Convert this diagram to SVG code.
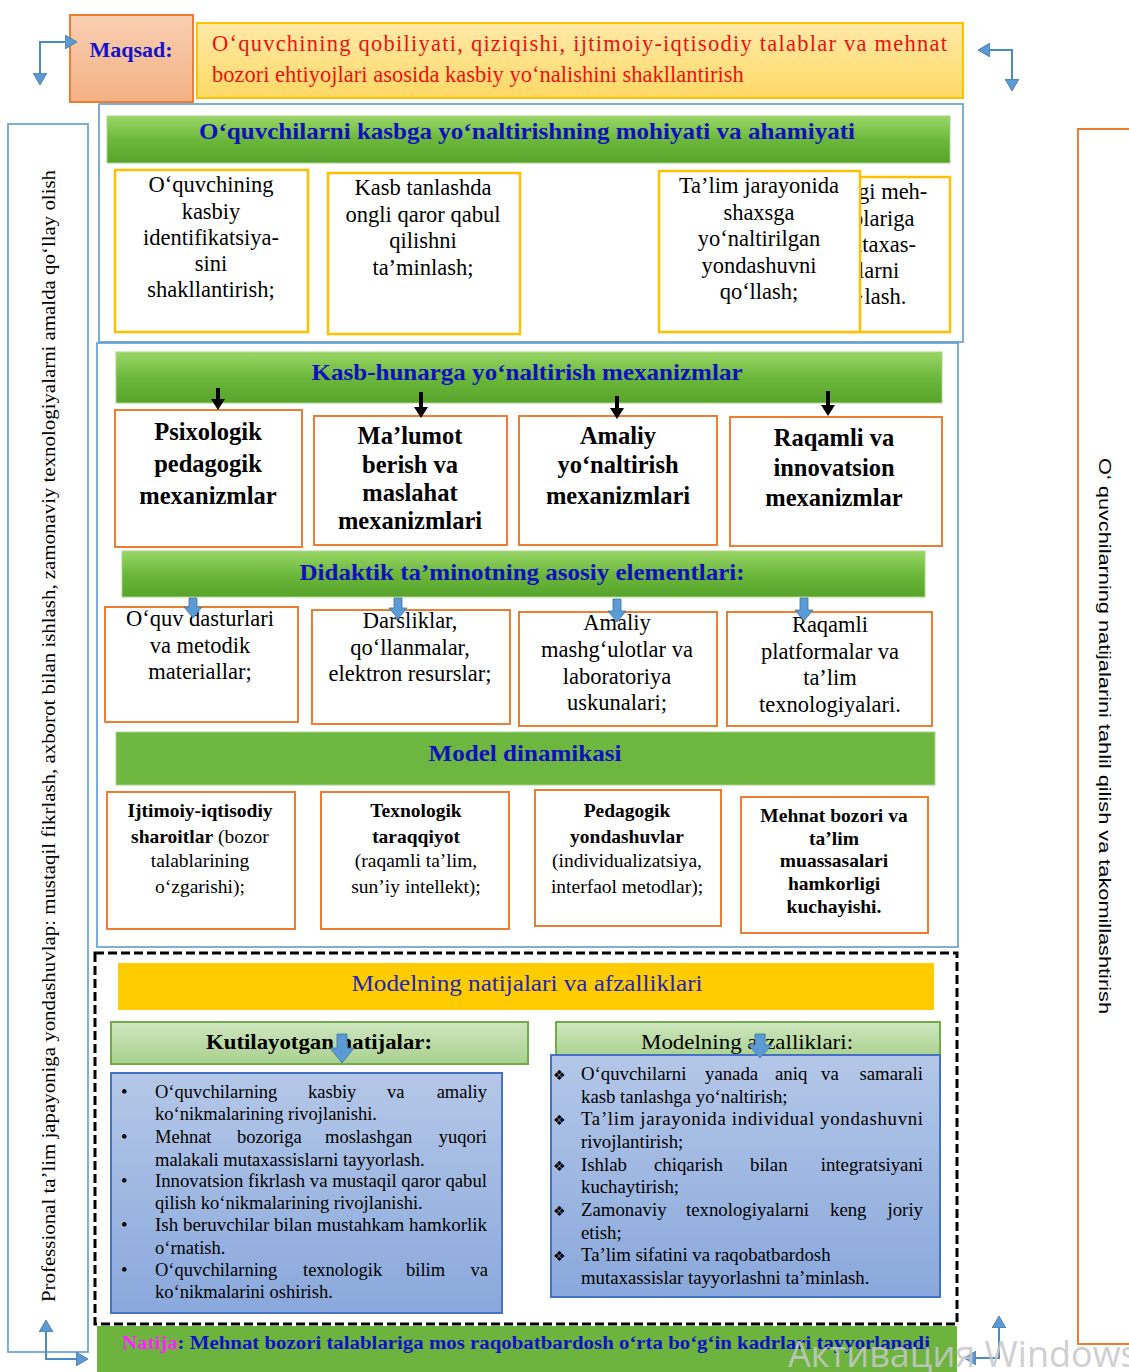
<svg xmlns="http://www.w3.org/2000/svg" width="1129" height="1372" viewBox="0 0 1129 1372">
<defs>
<linearGradient id="gGreen" x1="0" y1="0" x2="0" y2="1"><stop offset="0" stop-color="#9ad667"/><stop offset="0.5" stop-color="#6cb83c"/><stop offset="1" stop-color="#58a42b"/></linearGradient>
<linearGradient id="gLight" x1="0" y1="0" x2="0" y2="1"><stop offset="0" stop-color="#cfe6bf"/><stop offset="1" stop-color="#a9d18e"/></linearGradient>
<linearGradient id="gBlue" x1="0" y1="0" x2="0" y2="1"><stop offset="0" stop-color="#b4c7e7"/><stop offset="1" stop-color="#8aa8dc"/></linearGradient>
<linearGradient id="gSalmon" x1="0" y1="0" x2="0" y2="1"><stop offset="0" stop-color="#f9cfb3"/><stop offset="1" stop-color="#f4b183"/></linearGradient>
<linearGradient id="gGold" x1="0" y1="0" x2="0" y2="1"><stop offset="0" stop-color="#ffe9a8"/><stop offset="1" stop-color="#ffd966"/></linearGradient>
<marker id="ah" viewBox="0 0 12 14" refX="1" refY="7" markerWidth="12" markerHeight="14" markerUnits="userSpaceOnUse" orient="auto-start-reverse"><path d="M0,0 L12,7 L0,14 z" fill="#5b9bd5" stroke="#41719c" stroke-width="0.8"/></marker>
<style>
text{font-family:"Liberation Serif","Times New Roman",serif;fill:#000}
.c{text-anchor:middle}
.e{text-anchor:end}
.b{font-weight:bold}
.hd{font-weight:bold;fill:#0f0fc0;font-size:23px;text-anchor:middle}
.t22{font-size:22.5px}
.t24{font-size:24.5px;font-weight:bold}
.t20{font-size:19.5px}
.l18{font-size:18.5px}
.r18{font-size:18.8px}
.yb{fill:#fff;stroke:#ffc000;stroke-width:2.5}
.ob{fill:#fff;stroke:#ed7d31;stroke-width:2}
.cont{fill:none;stroke:#5b9bd5;stroke-width:1.6}
.gh{fill:url(#gGreen);stroke:#a8d58a;stroke-width:1}
.conn{fill:none;stroke:#4a8ac8;stroke-width:2;marker-start:url(#ah);marker-end:url(#ah)}
.ba{fill:#5b9bd5;stroke:#41719c;stroke-width:0.8}
.ka{fill:#000}
.dm{font-family:"DejaVu Sans",sans-serif;font-size:14px}
</style>
</defs>
<rect width="1129" height="1372" fill="#fff"/>

<g id="side-left">
<rect x="8" y="124" width="80" height="1228" fill="#fff" stroke="#5b9bd5" stroke-width="1.6"/>
<text transform="translate(55,1302) rotate(-90)" font-size="18" textLength="1132" lengthAdjust="spacingAndGlyphs">Professional ta’lim jaрayoniga yondashuvlaр: mustaqil fikrlash, axborot bilan ishlash, zamonaviy texnologiyalarni amalda qo‘llay olish</text>
</g>

<g id="side-right">
<rect x="1078" y="129" width="70" height="1215" fill="#fff" stroke="#ed7d31" stroke-width="2"/>
<text transform="translate(1099,458) rotate(90)" font-size="17" style="font-family:'Liberation Sans',Arial,sans-serif" textLength="556" lengthAdjust="spacingAndGlyphs">O‘ quvchilarning natijalarini tahlil qilish va takomillashtirish</text>
</g>

<g id="maqsad">
<rect x="70" y="15" width="123" height="87" fill="url(#gSalmon)" stroke="#ed7d31" stroke-width="2"/>
<text x="131" y="57" class="c b" font-size="22" style="fill:#1414c8">Maqsad:</text>
</g>

<g id="goal">
<rect x="197" y="23" width="766" height="75" fill="url(#gGold)" stroke="#ffc000" stroke-width="2"/>
<text x="212" y="51" class="t22" style="fill:#ee1111" textLength="735" lengthAdjust="spacing">O‘quvchining qobiliyati, qiziqishi, ijtimoiy-iqtisodiy talablar va mehnat</text>
<text x="212" y="82" class="t22" style="fill:#ee1111">bozori ehtiyojlari asosida kasbiy yo‘nalishini shakllantirish</text>
</g>

<g id="section-essence">
<rect x="99" y="104" width="864" height="238" class="cont"/>
<rect x="107" y="116" width="843" height="47" class="gh"/>
<text x="527" y="139" class="hd" textLength="656" lengthAdjust="spacingAndGlyphs">O‘quvchilarni kasbga yo‘naltirishning mohiyati va ahamiyati</text>
</g>

<g id="essence-1">
<rect x="115" y="170" width="193" height="162" class="yb"/>
<text class="c t22" x="211" y="192">O‘quvchining</text>
<text class="c t22" x="211" y="219">kasbiy</text>
<text class="c t22" x="211" y="245">identifikatsiya-</text>
<text class="c t22" x="211" y="271">sini</text>
<text class="c t22" x="211" y="297">shakllantirish;</text>
</g>
<g id="essence-2">
<rect x="328" y="173" width="192" height="161" class="yb"/>
<text class="c t22" x="423" y="195">Kasb tanlashda</text>
<text class="c t22" x="423" y="222">ongli qaror qabul</text>
<text class="c t22" x="423" y="248">qilishni</text>
<text class="c t22" x="423" y="275">ta’minlash;</text>
</g>
<g id="essence-4">
<rect x="845" y="177" width="105" height="155" class="yb"/>
<text class="t22" x="858" y="199">gi meh-</text>
<text class="t22" x="852" y="226">blariga</text>
<text class="t22" x="851" y="252">utaxas-</text>
<text class="t22" x="858" y="278">larni</text>
<text class="t22" x="857" y="304">·lash.</text>
</g>
<g id="essence-3">
<rect x="659" y="171" width="201" height="161" class="yb"/>
<text class="c t22" x="759" y="193">Ta’lim jarayonida</text>
<text class="c t22" x="759" y="220">shaxsga</text>
<text class="c t22" x="759" y="246">yo‘naltirilgan</text>
<text class="c t22" x="759" y="273">yondashuvni</text>
<text class="c t22" x="759" y="299">qo‘llash;</text>
</g>

<g id="section-mechanisms">
<rect x="97" y="343" width="861" height="604" class="cont"/>
<rect x="116" y="352" width="826" height="51" class="gh"/>
<text x="527" y="380" class="hd" font-size="24" textLength="431" lengthAdjust="spacingAndGlyphs">Kasb-hunarga yo‘naltirish mexanizmlar</text>
</g>

<g id="mech-1">
<rect x="115" y="410" width="187" height="137" class="ob"/>
<text class="c t24" x="208" y="440">Psixologik</text>
<text class="c t24" x="208" y="472">pedagogik</text>
<text class="c t24" x="208" y="504">mexanizmlar</text>
</g>
<g id="mech-2">
<rect x="314" y="416" width="193" height="129" class="ob"/>
<text class="c t24" x="410" y="444">Ma’lumot</text>
<text class="c t24" x="410" y="473">berish va</text>
<text class="c t24" x="410" y="501">maslahat</text>
<text class="c t24" x="410" y="529">mexanizmlari</text>
</g>
<g id="mech-3">
<rect x="519" y="416" width="198" height="129" class="ob"/>
<text class="c t24" x="618" y="444">Amaliy</text>
<text class="c t24" x="618" y="473">yo‘naltirish</text>
<text class="c t24" x="618" y="504">mexanizmlari</text>
</g>
<g id="mech-4">
<rect x="730" y="417" width="212" height="129" class="ob"/>
<text class="c t24" x="834" y="446">Raqamli va</text>
<text class="c t24" x="834" y="476">innovatsion</text>
<text class="c t24" x="834" y="506">mexanizmlar</text>
</g>

<g id="didactic-header">
<rect x="122" y="551" width="803" height="46" class="gh"/>
<text x="522" y="580" class="hd" textLength="445" lengthAdjust="spacingAndGlyphs">Didaktik ta’minotning asosiy elementlari:</text>
</g>

<g id="did-1">
<rect x="105" y="607" width="193" height="115" class="ob"/>
<text class="c t22" x="200" y="626">O‘quv dasturlari</text>
<text class="c t22" x="200" y="653">va metodik</text>
<text class="c t22" x="200" y="679">materiallar;</text>
</g>
<g id="did-2">
<rect x="312" y="610" width="198" height="114" class="ob"/>
<text class="c t22" x="410" y="628">Darsliklar,</text>
<text class="c t22" x="410" y="655">qo‘llanmalar,</text>
<text class="c t22" x="410" y="681">elektron resurslar;</text>
</g>
<g id="did-3">
<rect x="519" y="612" width="198" height="114" class="ob"/>
<text class="c t22" x="617" y="630">Amaliy</text>
<text class="c t22" x="617" y="657">mashg‘ulotlar va</text>
<text class="c t22" x="617" y="684">laboratoriya</text>
<text class="c t22" x="617" y="710">uskunalari;</text>
</g>
<g id="did-4">
<rect x="727" y="612" width="205" height="114" class="ob"/>
<text class="c t22" x="830" y="632">Raqamli</text>
<text class="c t22" x="830" y="659">platformalar va</text>
<text class="c t22" x="830" y="685">ta’lim</text>
<text class="c t22" x="830" y="712">texnologiyalari.</text>
</g>

<g id="dynamics-header">
<rect x="116" y="732" width="819" height="53" fill="#6db63f" stroke="#a8d58a" stroke-width="1"/>
<text x="525" y="761" class="hd" font-size="24" textLength="193" lengthAdjust="spacingAndGlyphs">Model dinamikasi</text>
</g>

<g id="dyn-1">
<rect x="107" y="792" width="188" height="137" class="ob"/>
<text class="c t20 b" x="200" y="817">Ijtimoiy-iqtisodiy</text>
<text class="c t20" x="200" y="843"><tspan font-weight="bold">sharoitlar</tspan> (bozor</text>
<text class="c t20" x="200" y="867">talablarining</text>
<text class="c t20" x="200" y="893">o‘zgarishi);</text>
</g>
<g id="dyn-2">
<rect x="321" y="792" width="188" height="137" class="ob"/>
<text class="c t20 b" x="416" y="817">Texnologik</text>
<text class="c t20 b" x="416" y="843">taraqqiyot</text>
<text class="c t20" x="416" y="867">(raqamli ta’lim,</text>
<text class="c t20" x="416" y="893">sun’iy intellekt);</text>
</g>
<g id="dyn-3">
<rect x="535" y="790" width="186" height="136" class="ob"/>
<text class="c t20 b" x="627" y="817">Pedagogik</text>
<text class="c t20 b" x="627" y="843">yondashuvlar</text>
<text class="c t20" x="627" y="867">(individualizatsiya,</text>
<text class="c t20" x="627" y="893">interfaol metodlar);</text>
</g>
<g id="dyn-4">
<rect x="741" y="797" width="187" height="136" class="ob"/>
<text class="c t20 b" x="834" y="822">Mehnat bozori va</text>
<text class="c t20 b" x="834" y="845">ta’lim</text>
<text class="c t20 b" x="834" y="867">muassasalari</text>
<text class="c t20 b" x="834" y="890">hamkorligi</text>
<text class="c t20 b" x="834" y="913">kuchayishi.</text>
</g>

<g id="results-section">
<rect x="95" y="953" width="862" height="371" fill="none" stroke="#000" stroke-width="3" stroke-dasharray="9,4"/>
<rect x="118" y="963" width="816" height="47" fill="#ffcc00"/>
<text x="527" y="991" class="c" font-size="23" style="fill:#2424b4" textLength="351" lengthAdjust="spacingAndGlyphs">Modelning natijalari va afzalliklari</text>
</g>

<g id="expected-results">
<rect x="111" y="1022" width="417" height="42" fill="url(#gLight)" stroke="#70ad47" stroke-width="2"/>
<text x="319" y="1049" class="c b" font-size="21.5" textLength="226" lengthAdjust="spacingAndGlyphs">Kutilayotgan natijalar:</text>
<rect x="111" y="1073" width="391" height="240" fill="url(#gBlue)" stroke="#4472c4" stroke-width="2"/>
<g class="l18">
<text x="121" y="1098">•</text><text x="121" y="1143">•</text><text x="121" y="1187">•</text><text x="121" y="1231">•</text><text x="121" y="1276">•</text>
<text x="155" y="1098">O‘quvchilarning</text><text x="308" y="1098">kasbiy</text><text x="387" y="1098">va</text><text class="e" x="487" y="1098">amaliy</text>
<text x="155" y="1120">ko‘nikmalarining rivojlanishi.</text>
<text x="155" y="1143">Mehnat</text><text x="237" y="1143">bozoriga</text><text x="325" y="1143">moslashgan</text><text class="e" x="487" y="1143">yuqori</text>
<text x="155" y="1166">malakali mutaxassislarni tayyorlash.</text>
<text x="155" y="1187" textLength="332" lengthAdjust="spacingAndGlyphs">Innovatsion fikrlash va mustaqil qaror qabul</text>
<text x="155" y="1209">qilish ko‘nikmalarining rivojlanishi.</text>
<text x="155" y="1231" textLength="332" lengthAdjust="spacingAndGlyphs">Ish beruvchilar bilan mustahkam hamkorlik</text>
<text x="155" y="1254">o‘rnatish.</text>
<text x="155" y="1276">O‘quvchilarning</text><text x="303" y="1276">texnologik</text><text x="406" y="1276">bilim</text><text class="e" x="488" y="1276">va</text>
<text x="155" y="1298">ko‘nikmalarini oshirish.</text>
</g>
</g>

<g id="advantages">
<rect x="556" y="1022" width="384" height="36" fill="url(#gLight)" stroke="#70ad47" stroke-width="2"/>
<text x="747" y="1049" class="c" font-size="22" textLength="212" lengthAdjust="spacingAndGlyphs">Modelning afzalliklari:</text>
<rect x="551" y="1055" width="389" height="242" fill="url(#gBlue)" stroke="#4472c4" stroke-width="2"/>
<g class="r18">
<text x="553" y="1080" class="dm">❖</text>
<text x="553" y="1125" class="dm">❖</text>
<text x="553" y="1171" class="dm">❖</text>
<text x="553" y="1216" class="dm">❖</text>
<text x="553" y="1261" class="dm">❖</text>
<text x="581" y="1080">O‘quvchilarni</text><text x="705" y="1080">yanada</text><text x="775" y="1080">aniq</text><text x="821" y="1080">va</text><text class="e" x="923" y="1080">samarali</text>
<text x="581" y="1103">kasb tanlashga yo‘naltirish;</text>
<text x="581" y="1125" textLength="342" lengthAdjust="spacing">Ta’lim jarayonida individual yondashuvni</text>
<text x="581" y="1148">rivojlantirish;</text>
<text x="581" y="1171">Ishlab</text><text x="654" y="1171">chiqarish</text><text x="750" y="1171">bilan</text><text class="e" x="923" y="1171">integratsiyani</text>
<text x="581" y="1193">kuchaytirish;</text>
<text x="581" y="1216">Zamonaviy</text><text x="686" y="1216">texnologiyalarni</text><text x="830" y="1216">keng</text><text class="e" x="923" y="1216">joriy</text>
<text x="581" y="1239">etish;</text>
<text x="581" y="1261">Ta’lim sifatini va raqobatbardosh</text>
<text x="581" y="1284">mutaxassislar tayyorlashni ta’minlash.</text>
</g>
</g>

<g id="result-bar">
<rect x="97" y="1326" width="860" height="46" fill="#6cb43e"/>
<text x="122" y="1349" class="b" font-size="19.5" textLength="808" lengthAdjust="spacingAndGlyphs"><tspan style="fill:#ff22ff">Natija</tspan><tspan style="fill:#1010c8">: Mehnat bozori talablariga mos raqobatbardosh o‘rta bo‘g‘in kadrlari tayyorlanadi</tspan></text>
</g>

<g id="connectors">
<path class="conn" d="M40,74 V42 H66"/>
<path class="conn" d="M989,50 H1012 V80"/>
<path class="conn" d="M46,1331 V1359 H77"/>
<path class="conn" d="M999,1327 V1358 H975"/>
<path class="ka" d="M216,388 h4 v11 h5 l-7,11 l-7,-11 h5 z"/>
<path class="ka" d="M419,392 h4 v15 h5 l-7,11 l-7,-11 h5 z"/>
<path class="ka" d="M615,396 h4 v12 h5 l-7,11 l-7,-11 h5 z"/>
<path class="ka" d="M826,391 h4 v14 h5 l-7,11 l-7,-11 h5 z"/>
<path class="ba" d="M189,598 h8 v9 h5 l-9,11 l-9,-11 h5 z"/>
<path class="ba" d="M394,598 h8 v10 h5 l-9,11 l-9,-11 h5 z"/>
<path class="ba" d="M613,599 h8 v12 h5 l-9,11 l-9,-11 h5 z"/>
<path class="ba" d="M800,598 h8 v12 h5 l-9,11 l-9,-11 h5 z"/>
<path class="ba" d="M337,1034 h10 v14 h7 l-12,15 l-12,-15 h7 z"/>
<path class="ba" d="M755,1034 h10 v11 h7 l-12,13 l-12,-13 h7 z"/>
</g>

<text x="788" y="1367" font-size="36" style="font-family:'Open Sans','Noto Sans',sans-serif;fill:#c8c8c8" opacity="0.85">Активация Windows</text>
</svg>
